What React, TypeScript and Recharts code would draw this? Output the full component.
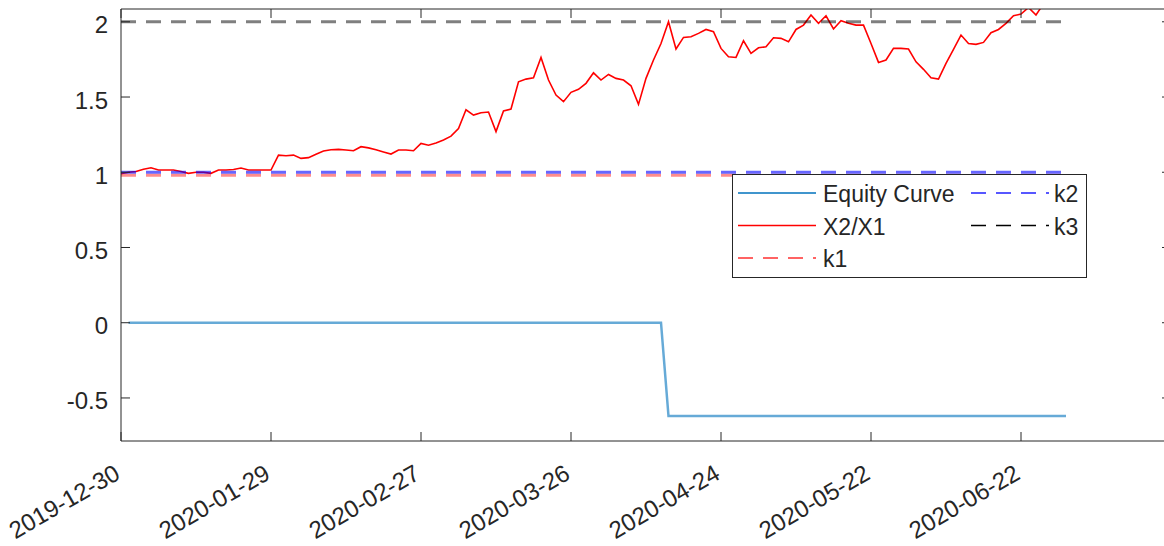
import { LineChart, Line, XAxis, YAxis, Legend } from "recharts";

// trading-day index of each labelled x tick, and its date text
const tickIndex = [0, 20, 40, 60, 80, 100, 120];
const tickDates = [
  "2019-12-30",
  "2020-01-29",
  "2020-02-27",
  "2020-03-26",
  "2020-04-24",
  "2020-05-22",
  "2020-06-22",
];
const yTicks = [-0.5, 0, 0.5, 1, 1.5, 2];

// X2/X1, one value per trading day (index 0..126)
const ratio = [
  0.99, 1.0, 1.005, 1.02, 1.03, 1.015, 1.015, 1.015, 1.005, 0.993,
  1.0, 1.0, 0.993, 1.015, 1.015, 1.018, 1.028, 1.015, 1.015, 1.015,
  1.015, 1.114, 1.11, 1.114, 1.092, 1.097, 1.12, 1.141, 1.15, 1.152,
  1.148, 1.143, 1.17, 1.162, 1.15, 1.135, 1.121, 1.148, 1.148, 1.143,
  1.192, 1.18, 1.195, 1.214, 1.24, 1.29, 1.415, 1.38, 1.395, 1.4,
  1.27, 1.407, 1.42, 1.601, 1.619, 1.628, 1.763, 1.613, 1.513, 1.469,
  1.531, 1.551, 1.591, 1.661, 1.613, 1.65, 1.624, 1.613, 1.575, 1.451,
  1.624, 1.746, 1.856, 2.0, 1.819, 1.896, 1.9, 1.923, 1.949, 1.934,
  1.823, 1.768, 1.763, 1.874, 1.79, 1.827, 1.834, 1.894, 1.89, 1.867,
  1.949, 1.978, 2.045, 1.99, 2.04, 1.952, 2.007, 1.99, 1.978, 1.978,
  1.856, 1.73, 1.746, 1.823, 1.823, 1.819, 1.734, 1.684, 1.628, 1.619,
  1.723, 1.817, 1.912, 1.856, 1.85, 1.863, 1.927, 1.949, 1.99, 2.04,
  2.051, 2.095, 2.045, 2.12, 2.15, 2.14, 2.16,
];

// equity curve, starts on day 1
const equity = [
  null, 0, 0, 0, 0, 0, 0, 0, 0, 0,
  0, 0, 0, 0, 0, 0, 0, 0, 0, 0,
  0, 0, 0, 0, 0, 0, 0, 0, 0, 0,
  0, 0, 0, 0, 0, 0, 0, 0, 0, 0,
  0, 0, 0, 0, 0, 0, 0, 0, 0, 0,
  0, 0, 0, 0, 0, 0, 0, 0, 0, 0,
  0, 0, 0, 0, 0, 0, 0, 0, 0, 0,
  0, 0, 0, -0.62, -0.62, -0.62, -0.62, -0.62, -0.62, -0.62,
  -0.62, -0.62, -0.62, -0.62, -0.62, -0.62, -0.62, -0.62, -0.62, -0.62,
  -0.62, -0.62, -0.62, -0.62, -0.62, -0.62, -0.62, -0.62, -0.62, -0.62,
  -0.62, -0.62, -0.62, -0.62, -0.62, -0.62, -0.62, -0.62, -0.62, -0.62,
  -0.62, -0.62, -0.62, -0.62, -0.62, -0.62, -0.62, -0.62, -0.62, -0.62,
  -0.62, -0.62, -0.62, -0.62, -0.62, -0.62, -0.62,
];

// threshold levels
const k1 = 0.98;
const k2 = 1;
const k3 = 2;

const data = ratio.map((r, i) => ({
  i,
  ratio: r,
  equity: equity[i],
  k1,
  k2,
  k3,
}));

const AXIS = "#262626";
const FONT = "'Liberation Sans', Arial, Helvetica, sans-serif";
const DASH = "15 10";

const legendItems = [
  { name: "Equity Curve", color: "#0072BD", dash: undefined, col: 0, row: 0 },
  { name: "X2/X1", color: "#ff0000", dash: undefined, col: 0, row: 1 },
  { name: "k1", color: "#ff3030", dash: DASH, col: 0, row: 2 },
  { name: "k2", color: "#2020ff", dash: DASH, col: 1, row: 0 },
  { name: "k3", color: "#000000", dash: DASH, col: 1, row: 1 },
];

const BottomTick = ({ x, y, payload }: any) => {
  const label = tickDates[tickIndex.indexOf(payload.value)];
  const ax = x + 0.5;
  const ay = y + 37;
  return (
    <g>
      <line x1={x} y1={y} x2={x} y2={y - 9} stroke={AXIS} />
      <text
        x={ax}
        y={ay}
        textAnchor="end"
        transform={`rotate(-30 ${ax} ${ay})`}
        fontSize={24}
        fontFamily={FONT}
        fill={AXIS}
      >
        {label}
      </text>
    </g>
  );
};

const TopTick = ({ x, y }: any) => (
  <line x1={x} y1={y} x2={x} y2={y + 9} stroke={AXIS} />
);

const LeftTick = ({ x, y, payload }: any) => (
  <g>
    <line x1={x} y1={y} x2={x + 9} y2={y} stroke={AXIS} />
    <text
      x={x - 13}
      y={y + 11.5}
      textAnchor="end"
      fontSize={24}
      fontFamily={FONT}
      fill={AXIS}
    >
      {String(payload.value)}
    </text>
  </g>
);

const RightTick = ({ x, y }: any) => (
  <line x1={x} y1={y} x2={x - 9} y2={y} stroke={AXIS} />
);

const renderLegend = () => {
  const rowY = [19, 51.5, 84];
  const lineX = [6, 239];
  return (
    <svg width={355} height={104} style={{ display: "block" }}>
      <rect x={0.5} y={0.5} width={354} height={103} fill="#fff" stroke={AXIS} />
      {legendItems.map((it) => {
        const lx = lineX[it.col];
        const ly = rowY[it.row];
        return (
          <g key={it.name}>
            <line
              x1={lx}
              y1={ly}
              x2={lx + 78}
              y2={ly}
              stroke={it.color}
              strokeWidth={1.3}
              strokeDasharray={it.dash}
            />
            <text
              x={lx + (it.col === 0 ? 85 : 83)}
              y={ly + 9}
              fontSize={23}
              fontFamily={FONT}
              fill={AXIS}
            >
              {it.name}
            </text>
          </g>
        );
      })}
    </svg>
  );
};

export default function App() {
  return (
    <div
      style={{
        width: 1164,
        height: 546,
        overflow: "hidden",
        position: "relative",
        background: "#fff",
      }}
    >
      <style>{"body{margin:0}"}</style>
      <LineChart
        width={1180}
        height={546}
        data={data}
        margin={{ top: 0, right: 0, bottom: 0, left: 0 }}
      >
        <XAxis
          dataKey="i"
          type="number"
          domain={[0, 140]}
          ticks={tickIndex}
          interval={0}
          allowDataOverflow
          height={105}
          tickSize={0}
          tickMargin={0}
          tickLine={false}
          axisLine={{ stroke: AXIS }}
          tick={<BottomTick />}
        />
        <XAxis
          xAxisId="top"
          orientation="top"
          dataKey="i"
          type="number"
          domain={[0, 140]}
          ticks={tickIndex}
          interval={0}
          allowDataOverflow
          height={9}
          tickSize={0}
          tickMargin={0}
          tickLine={false}
          axisLine={{ stroke: AXIS }}
          tick={<TopTick />}
        />
        <YAxis
          type="number"
          domain={[-0.786, 2.085]}
          ticks={yTicks}
          interval={0}
          allowDataOverflow
          width={121}
          tickSize={0}
          tickMargin={0}
          tickLine={false}
          axisLine={{ stroke: AXIS }}
          tick={<LeftTick />}
        />
        <YAxis
          yAxisId="right"
          orientation="right"
          type="number"
          domain={[-0.786, 2.085]}
          ticks={yTicks}
          interval={0}
          allowDataOverflow
          width={9}
          tickSize={0}
          tickMargin={0}
          tickLine={false}
          axisLine={{ stroke: AXIS }}
          tick={<RightTick />}
        />
        <Legend
          layout="horizontal"
          verticalAlign="middle"
          align="center"
          content={renderLegend}
          wrapperStyle={{ left: 732, top: 174, width: 355, height: 104 }}
        />
        <Line
          name="Equity Curve"
          dataKey="equity"
          type="linear"
          stroke="#0072BD"
          strokeOpacity={0.6}
          strokeWidth={2.5}
          dot={false}
          activeDot={false}
          isAnimationActive={false}
        />
        <Line
          name="X2/X1"
          dataKey="ratio"
          type="linear"
          stroke="#ff0000"
          strokeWidth={1.6}
          dot={false}
          activeDot={false}
          isAnimationActive={false}
        />
        <Line
          name="k1"
          dataKey="k1"
          type="linear"
          stroke="#ff0000"
          strokeOpacity={0.45}
          strokeWidth={3}
          strokeDasharray={DASH}
          dot={false}
          activeDot={false}
          isAnimationActive={false}
        />
        <Line
          name="k2"
          dataKey="k2"
          type="linear"
          stroke="#0000ff"
          strokeOpacity={0.6}
          strokeWidth={3}
          strokeDasharray={DASH}
          dot={false}
          activeDot={false}
          isAnimationActive={false}
        />
        <Line
          name="k3"
          dataKey="k3"
          type="linear"
          stroke="#000000"
          strokeOpacity={0.5}
          strokeWidth={3}
          strokeDasharray={DASH}
          dot={false}
          activeDot={false}
          isAnimationActive={false}
        />
      </LineChart>
    </div>
  );
}
